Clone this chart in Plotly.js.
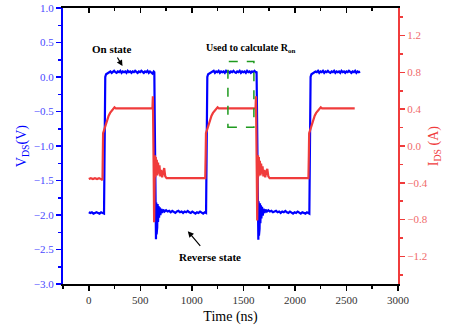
<!DOCTYPE html>
<html>
<head>
<meta charset="utf-8">
<script src="https://cdn.plot.ly/plotly-3.0.1.min.js"></script>
<style>html,body{margin:0;padding:0;background:#fff;}#chart{width:449px;height:330px;}</style>
</head>
<body>
<div id="chart"></div>
<script>
// V_DS waveform (blue), time in ns, volts
const vdsTime = [0,15,30,45,60,75,90,105,120,135,148,
  152,156,160,168,180,195,
  210,222,234,246,258,270,282,294,306,318,330,342,354,366,378,390,402,414,426,438,450,462,474,486,498,510,522,534,546,558,570,582,594,606,618,630,636,
  640,644,648,652,655,658,661,664,668,672,677,682,688,695,703,712,722,735,
  750,765,780,795,810,825,840,855,870,885,900,915,930,945,960,975,990,1005,1020,1035,1050,1065,1080,1095,1110,1125,1138,
  1142,1146,1150,1158,1170,1185,
  1200,1212,1224,1236,1248,1260,1272,1284,1296,1308,1320,1332,1344,1356,1368,1380,1392,1404,1416,1428,1440,1452,1464,1476,1488,1500,1512,1524,1536,1548,1560,1572,1584,1596,1608,1620,1628,
  1633,1637,1641,1645,1648,1651,1654,1657,1661,1665,1670,1675,1681,1688,1696,1705,1715,1728,
  1742,1757,1772,1787,1802,1817,1832,1847,1862,1877,1892,1907,1922,1937,1952,1967,1982,1997,2012,2027,2042,2057,2072,2087,2102,2117,2132,2140,
  2144,2148,2152,2160,2172,2187,
  2200,2212,2224,2236,2248,2260,2272,2284,2296,2308,2320,2332,2344,2356,2368,2380,2392,2404,2416,2428,2440,2452,2464,2476,2488,2500,2512,2524,2536,2548,2560,2572,2584,2596,2608,2620,2632];
const vdsValue = [-1.96,-1.97,-1.96,-1.98,-1.97,-1.96,-1.97,-1.98,-1.96,-1.97,-1.98,
  -1.3,-0.4,0.0,0.04,0.05,0.06,
  0.08,0.06,0.07,0.09,0.07,0.06,0.08,0.07,0.09,0.06,0.08,0.07,0.08,0.06,0.09,0.07,0.08,0.06,0.08,0.07,0.09,0.07,0.06,0.08,0.07,0.09,0.07,0.06,0.08,0.07,0.09,0.06,0.08,0.07,0.05,0.08,0.07,
  -0.6,-1.6,-2.2,-2.35,-1.82,-2.28,-1.86,-2.18,-1.84,-2.1,-1.87,-2.04,-1.89,-2.0,-1.91,-1.97,-1.92,-1.95,
  -1.93,-1.95,-1.94,-1.96,-1.94,-1.95,-1.97,-1.95,-1.94,-1.96,-1.95,-1.97,-1.95,-1.96,-1.94,-1.96,-1.97,-1.95,-1.96,-1.98,-1.96,-1.97,-1.95,-1.97,-1.98,-1.96,-1.97,
  -1.3,-0.4,0.0,0.04,0.05,0.06,
  0.07,0.09,0.06,0.08,0.07,0.09,0.06,0.08,0.07,0.08,0.06,0.09,0.07,0.08,0.06,0.08,0.07,0.09,0.07,0.06,0.08,0.07,0.09,0.06,0.08,0.07,0.08,0.06,0.09,0.07,0.08,0.06,0.08,0.07,0.09,0.07,0.08,
  -0.6,-1.6,-2.2,-2.36,-1.8,-2.3,-1.85,-2.2,-1.83,-2.12,-1.86,-2.05,-1.88,-2.01,-1.91,-1.97,-1.92,-1.95,
  -1.93,-1.95,-1.94,-1.96,-1.95,-1.94,-1.96,-1.95,-1.97,-1.95,-1.96,-1.94,-1.96,-1.97,-1.95,-1.96,-1.98,-1.96,-1.97,-1.95,-1.97,-1.98,-1.96,-1.97,-1.98,-1.96,-1.97,-1.98,
  -1.3,-0.4,0.0,0.04,0.05,0.06,
  0.08,0.07,0.09,0.06,0.08,0.07,0.09,0.06,0.08,0.07,0.09,0.07,0.06,0.08,0.07,0.09,0.06,0.08,0.07,0.08,0.06,0.09,0.07,0.08,0.06,0.08,0.07,0.09,0.07,0.06,0.08,0.07,0.09,0.06,0.08,0.07,0.08];

// I_DS waveform (red), time in ns, amperes
const idsTime = [0,20,40,60,80,100,120,133,
  136,139,148,158,168,180,193,207,222,237,250,262,
  300,400,500,600,618,
  622,626,630,634,638,642,646,650,655,660,666,672,679,686,694,702,712,722,732,742,755,
  800,900,1000,1100,1130,
  1134,1137,1146,1156,1166,1178,1191,1205,1220,1235,1250,1262,
  1300,1400,1500,1600,1618,
  1622,1626,1630,1634,1638,1642,1646,1650,1655,1660,1666,1672,1679,1686,1694,1702,1712,1722,1732,1742,1755,
  1800,1900,2000,2100,2131,
  2135,2138,2147,2157,2167,2179,2192,2206,2221,2236,2251,2263,
  2300,2400,2500,2580];
const idsValue = [-0.36,-0.35,-0.36,-0.35,-0.36,-0.35,-0.36,-0.37,
  -0.1,0.14,0.17,0.21,0.25,0.29,0.33,0.36,0.38,0.40,0.42,0.41,
  0.41,0.41,0.41,0.41,0.41,
  0.54,0.3,-0.3,-0.83,-0.4,-0.1,-0.34,-0.12,-0.3,-0.15,-0.32,-0.18,-0.3,-0.21,-0.33,-0.26,-0.34,-0.28,-0.24,-0.33,-0.35,
  -0.35,-0.35,-0.35,-0.35,-0.35,
  -0.1,0.14,0.17,0.21,0.25,0.29,0.33,0.36,0.38,0.40,0.42,0.41,
  0.41,0.41,0.41,0.41,0.41,
  0.54,0.3,-0.3,-0.81,-0.4,-0.1,-0.33,-0.12,-0.3,-0.16,-0.32,-0.19,-0.3,-0.22,-0.33,-0.26,-0.34,-0.28,-0.25,-0.33,-0.35,
  -0.35,-0.35,-0.35,-0.35,-0.35,
  -0.1,0.14,0.17,0.21,0.25,0.29,0.33,0.36,0.38,0.40,0.42,0.41,
  0.41,0.41,0.41,0.41];

// Highlighted region (time ns, V)
const boxTime = [1350, 1602];
const boxVolt = [-0.73, 0.225];

const SERIF = '"Liberation Serif", "Times New Roman", serif';
const BLUE = '#0000ff';
const RED = '#f03c3c';

const traces = [
  {x: vdsTime, y: vdsValue, type: 'scatter', mode: 'lines', line: {color: BLUE, width: 2.2}, xaxis: 'x', yaxis: 'y', hoverinfo: 'skip'},
  {x: idsTime, y: idsValue, type: 'scatter', mode: 'lines', line: {color: RED, width: 2.2}, xaxis: 'x', yaxis: 'y2', hoverinfo: 'skip'},
  {x: [-250], y: [-10], type: 'scatter', mode: 'markers', marker: {opacity: 0}, xaxis: 'x2', yaxis: 'y', hoverinfo: 'skip'}
];

const layout = {
  width: 449, height: 330,
  margin: {l: 63, r: 51, t: 8, b: 46},
  paper_bgcolor: '#fff', plot_bgcolor: '#fff',
  showlegend: false,
  font: {family: SERIF, size: 11, color: '#000'},
  xaxis: {
    range: [-250, 3000], tick0: 0, dtick: 500,
    ticks: 'outside', ticklen: 5, tickwidth: 1.5, tickcolor: '#000',
    minor: {dtick: 250, ticks: 'outside', ticklen: 3, tickwidth: 1.5, tickcolor: '#000'},
    showline: true, linecolor: '#000', linewidth: 1.8,
    showgrid: false, zeroline: false,
    tickfont: {family: SERIF, size: 11, color: '#333'},
    title: {text: 'Time (ns)', font: {family: SERIF, size: 14, color: '#000'}, standoff: 6}
  },
  xaxis2: {
    overlaying: 'x', side: 'top', range: [-250, 3000], tick0: 0, dtick: 500,
    ticks: 'inside', ticklen: 5, tickwidth: 1.5, tickcolor: '#000',
    minor: {dtick: 250, ticks: 'inside', ticklen: 3, tickwidth: 1.5, tickcolor: '#000'},
    showline: true, linecolor: '#000', linewidth: 1.8,
    showticklabels: false, showgrid: false, zeroline: false
  },
  yaxis: {
    range: [-3, 1], tick0: 0, dtick: 0.5, tickformat: '.1f',
    ticks: 'outside', ticklen: 5, tickwidth: 1.5, tickcolor: BLUE,
    minor: {dtick: 0.25, ticks: 'outside', ticklen: 3, tickwidth: 1.5, tickcolor: BLUE},
    showline: true, linecolor: BLUE, linewidth: 2,
    showgrid: false, zeroline: false,
    tickfont: {family: SERIF, size: 11, color: '#4a4aff'}
  },
  yaxis2: {
    overlaying: 'y', side: 'right', range: [-1.5, 1.5], tick0: 0, dtick: 0.4, tickformat: '.1f',
    ticks: 'outside', ticklen: 5, tickwidth: 1.5, tickcolor: RED,
    minor: {dtick: 0.2, ticks: 'outside', ticklen: 3, tickwidth: 1.5, tickcolor: RED},
    showline: true, linecolor: RED, linewidth: 2,
    showgrid: false, zeroline: false,
    tickfont: {family: SERIF, size: 11, color: '#f06a6a'}
  },
  shapes: [
    {type: 'rect', xref: 'x', yref: 'y', x0: boxTime[0], x1: boxTime[1], y0: boxVolt[0], y1: boxVolt[1],
     line: {color: '#1f9a1f', width: 1.5, dash: 'dash'}, fillcolor: 'rgba(0,0,0,0)'}
  ],
  annotations: [
    {xref: 'paper', yref: 'paper', x: -0.122, y: 0.5, xanchor: 'center', yanchor: 'middle', textangle: -90,
     text: 'V<sub>DS</sub>(V)', showarrow: false, font: {family: SERIF, size: 14, color: BLUE}},
    {xref: 'paper', yref: 'paper', x: 1.108, y: 0.5, xanchor: 'center', yanchor: 'middle', textangle: -90,
     text: 'I<sub>DS</sub> (A)', showarrow: false, font: {family: SERIF, size: 14, color: RED}},
    {xref: 'x', yref: 'y', x: 327, y: 0.158, ax: -10, ay: -17, text: '<b>On state</b>', showarrow: true,
     arrowhead: 2, arrowsize: 1, arrowwidth: 1.2, arrowcolor: '#000', startstandoff: 1,
     font: {family: SERIF, size: 11, color: '#000'}},
    {xref: 'x', yref: 'y', x: 1570, y: 0.414, text: '<b>Used to calculate R<sub>on</sub></b>', showarrow: false,
     font: {family: SERIF, size: 10, color: '#000'}},
    {xref: 'x', yref: 'y', x: 961, y: -2.234, ax: 22, ay: 26, text: '<b>Reverse state</b>', showarrow: true,
     arrowhead: 2, arrowsize: 1, arrowwidth: 1.2, arrowcolor: '#000', startstandoff: 5,
     font: {family: SERIF, size: 11, color: '#000'}}
  ]
};

Plotly.newPlot('chart', traces, layout, {staticPlot: true, displayModeBar: false});
</script>
</body>
</html>
